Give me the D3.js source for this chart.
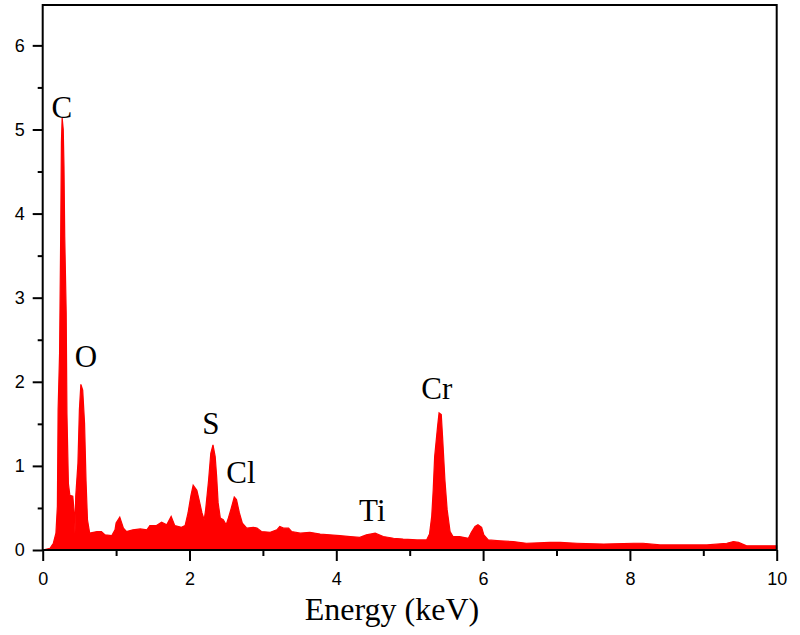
<!DOCTYPE html>
<html lang="en">
<head>
  <meta charset="UTF-8">
  <script src="https://d3js.org/d3.v7.min.js"></script>
  <style>
    body {
      margin: 0;
      padding: 0;
      background: #fff;
      overflow: hidden;
    }
    .tick text {
      font-family: Arial, "Liberation Sans", sans-serif;
      font-size: 18px;
      fill: #000;
    }
  </style>
</head>
<body>
  <script>
    // spectrum (keV, counts in the plot's units)
    const energy = [
      0.00, 0.10, 0.145, 0.18, 0.20, 0.21, 0.23, 0.245, 0.255, 0.265, 0.28, 0.29, 0.30, 0.32, 0.33, 0.35,
      0.37, 0.41, 0.43, 0.44, 0.45, 0.48, 0.50, 0.52, 0.545, 0.57, 0.59, 0.61, 0.64, 0.69, 0.74,
      0.80, 0.85, 0.94, 0.985, 1.00, 1.05, 1.10, 1.14, 1.23, 1.33, 1.42, 1.46, 1.55, 1.62, 1.69,
      1.75, 1.80, 1.89, 1.94, 1.98, 2.02, 2.05, 2.10, 2.13, 2.17, 2.20, 2.22, 2.26, 2.29, 2.32,
      2.35, 2.37, 2.39, 2.42, 2.46, 2.50, 2.53, 2.57, 2.61, 2.64, 2.68, 2.72, 2.78, 2.87, 2.92,
      2.98, 3.10, 3.19, 3.23, 3.28, 3.35, 3.39, 3.51, 3.64, 3.78, 3.91, 4.05, 4.19, 4.32, 4.41,
      4.53, 4.64, 4.78, 4.91, 5.10, 5.23, 5.27, 5.30, 5.32, 5.34, 5.38, 5.40, 5.43, 5.45, 5.48,
      5.51, 5.55, 5.59, 5.68, 5.80, 5.84, 5.89, 5.93, 5.98, 6.01, 6.07, 6.23, 6.41, 6.59, 6.91,
      7.05, 7.28, 7.64, 8.05, 8.18, 8.41, 8.77, 9.05, 9.32, 9.41, 9.48, 9.59, 9.77, 10.00
    ];
    const counts = [
      0.00, 0.02, 0.08, 0.20, 0.52, 1.67, 2.34, 3.73, 4.85, 5.14, 5.00, 4.55, 3.73, 2.82, 1.63, 0.79,
      0.65, 0.64, 0.44, 0.20, 0.64, 1.03, 1.67, 1.97, 1.90, 1.51, 0.83, 0.36, 0.20, 0.21, 0.22,
      0.22, 0.18, 0.17, 0.24, 0.32, 0.39, 0.26, 0.22, 0.24, 0.25, 0.24, 0.29, 0.29, 0.33, 0.30,
      0.40, 0.29, 0.27, 0.29, 0.44, 0.65, 0.77, 0.71, 0.60, 0.44, 0.36, 0.48, 0.83, 1.15, 1.25,
      1.11, 0.87, 0.56, 0.38, 0.36, 0.30, 0.38, 0.50, 0.63, 0.60, 0.44, 0.32, 0.26, 0.27, 0.26,
      0.22, 0.21, 0.24, 0.28, 0.26, 0.26, 0.22, 0.20, 0.21, 0.19, 0.18, 0.17, 0.16, 0.15, 0.18,
      0.20, 0.16, 0.14, 0.13, 0.12, 0.12, 0.19, 0.40, 0.71, 1.11, 1.47, 1.63, 1.61, 1.31, 0.83,
      0.48, 0.22, 0.16, 0.16, 0.14, 0.21, 0.28, 0.30, 0.27, 0.18, 0.12, 0.11, 0.10, 0.08, 0.09,
      0.09, 0.08, 0.07, 0.08, 0.08, 0.06, 0.06, 0.06, 0.08, 0.10, 0.09, 0.05, 0.05, 0.05
    ];

    // element labels: name, energy of label centre, level of label baseline
    const peakNames = ['C', 'O', 'S', 'Cl', 'Ti', 'Cr'];
    const peakEnergy = [0.26, 0.59, 2.29, 2.70, 4.49, 5.37];
    const labelLevel = [5.14, 2.17, 1.38, 0.80, 0.345, 1.80];

    const xMajor = [0, 2, 4, 6, 8, 10];
    const xMinor = [1, 3, 5, 7, 9];
    const yMajor = [0, 1, 2, 3, 4, 5, 6];
    const yMinor = [0.5, 1.5, 2.5, 3.5, 4.5, 5.5];

    const width = 800, height = 635;
    const plotLeft = 42.7, plotRight = 776.7, plotTop = 5, plotBottom = 550;

    const x = d3.scaleLinear().domain([0, 10]).range([plotLeft, plotRight]);
    const y = d3.scaleLinear().domain([0, 6.48]).range([plotBottom, plotTop]);

    const svg = d3.select('body').append('svg')
      .attr('width', width)
      .attr('height', height);

    const points = energy.map((e, i) => ({ e: e, v: counts[i] }));

    // filled spectrum
    const area = d3.area()
      .x(d => x(d.e))
      .y0(y(0))
      .y1(d => y(d.v));

    svg.append('path')
      .datum(points)
      .attr('d', area)
      .attr('fill', '#ff0000')
      .attr('stroke', '#ff0000')
      .attr('stroke-width', 1.2)
      .attr('stroke-linejoin', 'miter');

    // frame
    svg.append('rect')
      .attr('x', plotLeft)
      .attr('y', plotTop)
      .attr('width', plotRight - plotLeft)
      .attr('height', plotBottom - plotTop)
      .attr('fill', 'none')
      .attr('stroke', '#000')
      .attr('stroke-width', 2);

    // x axis, major + minor
    svg.append('g')
      .attr('transform', `translate(0,${plotBottom})`)
      .call(d3.axisBottom(x).tickValues(xMajor).tickFormat(d3.format('d'))
        .tickSizeInner(11).tickSizeOuter(0).tickPadding(11))
      .call(g => g.select('.domain').remove())
      .call(g => g.selectAll('.tick line').attr('stroke-width', 2));

    svg.append('g')
      .attr('transform', `translate(0,${plotBottom})`)
      .call(d3.axisBottom(x).tickValues(xMinor).tickFormat('')
        .tickSizeInner(6).tickSizeOuter(0))
      .call(g => g.select('.domain').remove())
      .call(g => g.selectAll('.tick line').attr('stroke-width', 2));

    // y axis, major + minor
    svg.append('g')
      .attr('transform', `translate(${plotLeft},0)`)
      .call(d3.axisLeft(y).tickValues(yMajor).tickFormat(d3.format('d'))
        .tickSizeInner(10).tickSizeOuter(0).tickPadding(8))
      .call(g => g.select('.domain').remove())
      .call(g => g.selectAll('.tick line').attr('stroke-width', 2));

    svg.append('g')
      .attr('transform', `translate(${plotLeft},0)`)
      .call(d3.axisLeft(y).tickValues(yMinor).tickFormat('')
        .tickSizeInner(5).tickSizeOuter(0))
      .call(g => g.select('.domain').remove())
      .call(g => g.selectAll('.tick line').attr('stroke-width', 2));

    // peak labels
    svg.append('g')
      .selectAll('text')
      .data(peakNames)
      .enter().append('text')
      .attr('x', (d, i) => x(peakEnergy[i]))
      .attr('y', (d, i) => y(labelLevel[i]))
      .attr('text-anchor', 'middle')
      .attr('font-family', '"Liberation Serif", "Times New Roman", serif')
      .attr('font-size', 31)
      .attr('fill', '#000')
      .text(d => d);

    // axis title
    svg.append('text')
      .attr('x', 392)
      .attr('y', 620)
      .attr('text-anchor', 'middle')
      .attr('font-family', '"Liberation Serif", "Times New Roman", serif')
      .attr('font-size', 32)
      .attr('fill', '#000')
      .text('Energy (keV)');
  </script>
</body>
</html>
